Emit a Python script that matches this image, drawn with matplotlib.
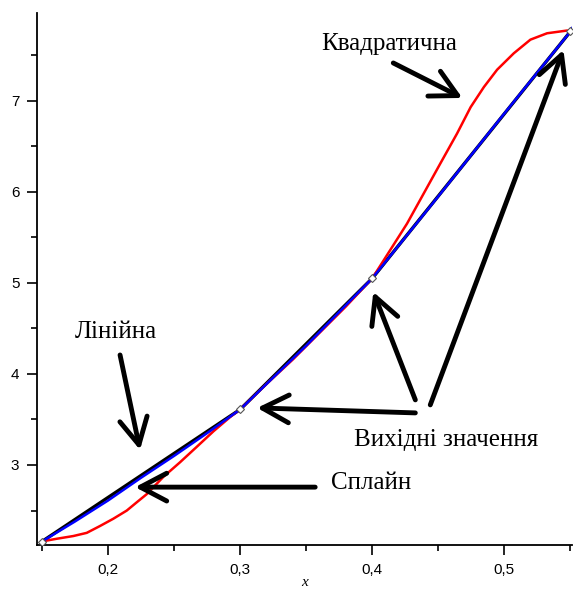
import numpy as np
import matplotlib
matplotlib.use("Agg")
import matplotlib.pyplot as plt
from matplotlib.ticker import MultipleLocator, FuncFormatter

# source points
x_pts = [0.15, 0.30, 0.40, 0.55]
y_pts = [2.16, 3.61, 5.05, 7.76]

# quadratic (red)
x_quad = [0.15, 0.1535, 0.1611, 0.1737, 0.1839, 0.1939, 0.204, 0.2142, 0.2217,
          0.2293, 0.2419, 0.2545, 0.2672, 0.2798, 0.2927, 0.30, 0.32, 0.34,
          0.36, 0.38, 0.40, 0.4136, 0.4263, 0.4389, 0.4515, 0.4642, 0.4745,
          0.4845, 0.4945, 0.5071, 0.5197, 0.5323, 0.5474, 0.55]
y_quad = [2.16, 2.17, 2.19, 2.22, 2.255, 2.33, 2.41, 2.50, 2.59,
          2.68, 2.87, 3.03, 3.20, 3.37, 3.53, 3.61, 3.89, 4.16,
          4.45, 4.74, 5.05, 5.36, 5.65, 5.98, 6.31, 6.64, 6.93,
          7.15, 7.34, 7.52, 7.67, 7.74, 7.77, 7.76]

# spline (blue)
x_spl = [0.15, 0.175, 0.20, 0.225, 0.25, 0.275, 0.30, 0.35, 0.40, 0.45, 0.50, 0.55, 0.5515]
y_spl = [2.16, 2.38, 2.61, 2.86, 3.10, 3.35, 3.61, 4.31, 5.05, 5.95, 6.86, 7.76, 7.80]

fig = plt.figure(figsize=(5.73, 5.93), dpi=100)
ax = fig.add_axes([0.0654, 0.081, 0.9336, 0.8976])

ax.plot(x_pts, y_pts, color='black', lw=2.4, zorder=2)
ax.plot(x_quad, y_quad, color='red', lw=1.8, zorder=3)
ax.plot(x_spl, y_spl, color='blue', lw=1.8, zorder=4)
ax.plot(x_pts, y_pts, ls='none', marker='D', ms=4, mfc='white',
        mec='#555555', mew=0.8, zorder=5)

ax.set_xlim(0.1466, 0.5515)
ax.set_ylim(2.122, 7.966)

for s in ['top', 'right']:
    ax.spines[s].set_visible(False)
for s in ['left', 'bottom']:
    ax.spines[s].set_linewidth(1.3)

ax.xaxis.set_major_locator(MultipleLocator(0.1))
ax.xaxis.set_minor_locator(MultipleLocator(0.05))
ax.yaxis.set_major_locator(MultipleLocator(1))
ax.yaxis.set_minor_locator(MultipleLocator(0.5))
ax.xaxis.set_major_formatter(FuncFormatter(lambda v, p: ('%.1f' % v).replace('.', ',')))
ax.yaxis.set_major_formatter(FuncFormatter(lambda v, p: '%d' % round(v)))
ax.tick_params(which='major', length=7, width=1.2, labelsize=11, pad=6)
ax.tick_params(which='minor', length=4, width=1.2)
for lab in ax.get_xticklabels() + ax.get_yticklabels():
    lab.set_family('Liberation Sans')

ax.set_xlabel('x', fontsize=11, family='Liberation Serif', style='italic', labelpad=-1)

serif = dict(fontsize=18, family='Liberation Serif', ha='center', va='center')
ax.text(0.4129, 7.62, 'Квадратична', **serif)
ax.text(0.206, 4.46, 'Лінійна', **serif)
ax.text(0.3992, 2.80, 'Сплайн', **serif)
ax.text(0.456, 3.27, 'Вихідні значення', **serif)

arrow = dict(arrowstyle='->,head_length=1.9,head_width=1.0', lw=3.5,
             color='black', shrinkA=0, shrinkB=0)
arrows = [
    ((0.4159, 7.414), (0.4682, 7.03)),
    ((0.2091, 4.208), (0.2242, 3.166)),
    ((0.3568, 2.757), (0.2205, 2.757)),
    ((0.4326, 3.572), (0.3129, 3.627)),
    ((0.4326, 3.715), (0.4008, 4.90)),
    ((0.4439, 3.66), (0.5447, 7.557)),
]
for start, end in arrows:
    ax.annotate('', xy=end, xytext=start, arrowprops=arrow, zorder=6)

fig.savefig('out.png', dpi=100)
